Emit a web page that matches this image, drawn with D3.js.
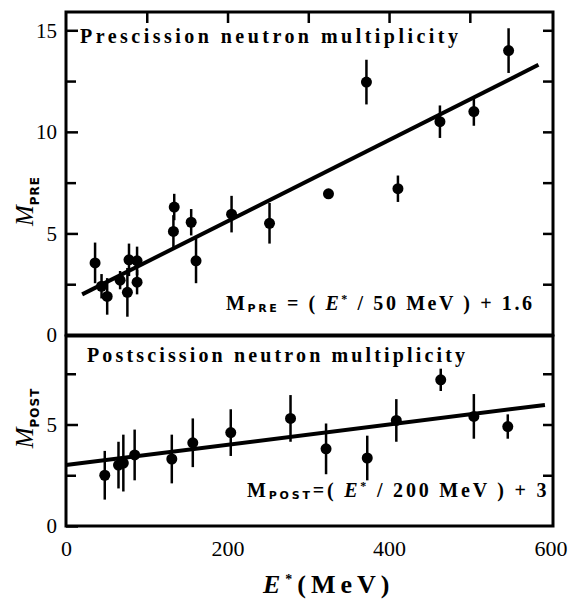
<!DOCTYPE html>
<html>
<head>
<meta charset="utf-8">
<script src="https://cdn.jsdelivr.net/npm/d3@7"></script>
<style>
  body { margin: 0; background: #fff; }
  svg text { font-family: "Liberation Serif", "DejaVu Serif", serif; fill: #000; }
  .tick line { stroke: #000; stroke-width: 2.5; }
  .tick text { font-size: 21px; }
</style>
</head>
<body>
<svg id="chart" width="575" height="601"></svg>
<script>
// prescission data (E* in MeV, multiplicity, error)
const preEnergy = [36, 44, 51, 67, 76, 78, 88, 88, 133, 134, 155, 161, 205, 252, 325, 372, 411, 463, 505, 548];
const preMult   = [3.55, 2.4, 1.9, 2.7, 2.1, 3.7, 3.65, 2.6, 5.1, 6.3, 5.55, 3.65, 5.95, 5.5, 6.95, 12.45, 7.2, 10.5, 11.0, 14.0];
const preErr    = [1.0, 0.6, 0.9, 0.45, 1.2, 0.8, 0.7, 0.6, 0.8, 0.65, 0.65, 1.1, 0.9, 1.0, 0, 1.1, 0.65, 0.8, 0.7, 1.1];

// postscission data
const postEnergy = [48, 65, 71, 85, 131, 157, 204, 278, 322, 373, 409, 464, 505, 547];
const postMult   = [2.5, 3.0, 3.1, 3.5, 3.3, 4.1, 4.6, 5.3, 3.8, 3.35, 5.2, 7.2, 5.4, 4.9];
const postErr    = [1.2, 1.15, 1.4, 1.25, 1.2, 1.2, 1.15, 1.15, 1.25, 1.1, 1.05, 0.55, 1.1, 0.6];

// fits: M = E*/scale + offset
const preFit  = { scale: 50, offset: 1.6, from: 20, to: 585 };
const postFit = { scale: 200, offset: 3, from: 0, to: 593 };

const xTicks = [0, 200, 400, 600];
const xTopTicks = [100, 200, 300, 400, 500];
const preTicks = [0, 5, 10, 15];
const preMinor = [2.5, 7.5, 12.5];
const postTicks = [0, 5];
const postMinor = [2.5, 7.5];

const svg = d3.select("#chart");
const x = d3.scaleLinear().domain([0, 603]).range([66, 553]);
const yPre = d3.scaleLinear().domain([0, 15.9]).range([335, 12]);
const yPost = d3.scaleLinear().domain([0, 9.36]).range([526, 336]);

function panel(y, E, M, err, fit, major, minor) {
  const g = svg.append("g");
  const left = x.range()[0], right = x.range()[1];

  g.append("g").attr("transform", `translate(${left},0)`)
    .call(d3.axisLeft(y).tickValues(major).tickSize(-12).tickPadding(9))
    .call(s => s.select(".domain").remove());
  g.append("g").attr("transform", `translate(${left},0)`)
    .call(d3.axisLeft(y).tickValues(minor).tickSize(-10).tickFormat(""))
    .call(s => s.select(".domain").remove());
  g.append("g").attr("transform", `translate(${right},0)`)
    .call(d3.axisRight(y).tickValues(major.concat(minor).filter(v => v > 0)).tickSize(-10).tickFormat(""))
    .call(s => s.select(".domain").remove());

  // fit line
  g.append("line")
    .attr("x1", x(fit.from)).attr("y1", y(fit.from / fit.scale + fit.offset))
    .attr("x2", x(fit.to)).attr("y2", y(fit.to / fit.scale + fit.offset))
    .attr("stroke", "#000").attr("stroke-width", 4);

  const pts = E.map((e, i) => ({ e, m: M[i], d: err[i] }));
  g.selectAll(".eb").data(pts.filter(p => p.d > 0)).join("line")
    .attr("x1", p => x(p.e)).attr("x2", p => x(p.e))
    .attr("y1", p => y(p.m - p.d)).attr("y2", p => y(p.m + p.d))
    .attr("stroke", "#000").attr("stroke-width", 2.5);
  g.selectAll(".pt").data(pts).join("circle")
    .attr("cx", p => x(p.e)).attr("cy", p => y(p.m)).attr("r", 5.5)
    .attr("fill", "#000");

  g.append("rect")
    .attr("x", left).attr("y", y.range()[1])
    .attr("width", right - left).attr("height", y.range()[0] - y.range()[1])
    .attr("fill", "none").attr("stroke", "#000").attr("stroke-width", 3);
  return g;
}

panel(yPre, preEnergy, preMult, preErr, preFit, preTicks, preMinor);
panel(yPost, postEnergy, postMult, postErr, postFit, postTicks, postMinor);

// top ticks
svg.append("g").attr("transform", `translate(0,${yPre.range()[1]})`)
  .call(d3.axisTop(x).tickValues(xTopTicks).tickSize(-11).tickFormat(""))
  .call(s => s.select(".domain").remove());

// bottom labels
svg.append("g").attr("transform", `translate(0,${yPost.range()[0]})`)
  .call(d3.axisBottom(x).tickValues(xTicks).tickSize(0).tickPadding(14).tickFormat(d3.format("d")))
  .call(s => s.select(".domain").remove())
  .selectAll("text").style("font-size", "22px");

// panel titles
svg.append("text").attr("x", 80).attr("y", 43)
  .attr("textLength", 378).attr("lengthAdjust", "spacing")
  .style("font-size", "20px").style("font-weight", "bold")
  .text("Prescission  neutron  multiplicity");
svg.append("text").attr("x", 87).attr("y", 362)
  .attr("textLength", 378).attr("lengthAdjust", "spacing")
  .style("font-size", "20px").style("font-weight", "bold")
  .text("Postscission  neutron  multiplicity");

function formula(xp, yp, sub, rest, ls) {
  const t = svg.append("text").attr("x", xp).attr("y", yp)
    .style("font-size", "20px").style("font-weight", "bold").style("letter-spacing", ls + "px");
  t.append("tspan").text("M");
  t.append("tspan").attr("dy", 2).style("font-size", "11px")
    .style("font-family", "'DejaVu Sans', sans-serif").text(sub);
  t.append("tspan").attr("dy", -2).text(rest[0]);
  t.append("tspan").style("font-style", "italic").text("E");
  t.append("tspan").attr("dy", -7).style("font-size", "12px").text("*");
  t.append("tspan").attr("dy", 7).text(rest[1]);
}
formula(226, 310, "PRE", [" = ( ", " / 50 MeV ) + 1.6"], 2.6);
formula(247, 497, "POST", ["=( ", " / 200 MeV ) + 3"], 2.8);

// y axis titles
function yTitle(cy, sub) {
  const t = svg.append("text")
    .attr("transform", `translate(33,${cy}) rotate(-90)`)
    .attr("text-anchor", "middle")
    .style("font-size", "25px");
  t.append("tspan").style("font-style", "italic").text("M");
  t.append("tspan").attr("dy", 6).style("font-size", "12px").style("font-weight", "bold")
    .style("font-family", "'DejaVu Sans', sans-serif").style("letter-spacing", "1px").text(sub);
}
yTitle(201, "PRE");
yTitle(418, "POST");

// x axis title
const xt = svg.append("text").attr("x", 263).attr("y", 593)
  .style("font-size", "26px").style("font-weight", "bold").style("letter-spacing", "5px");
xt.append("tspan").style("font-style", "italic").text("E");
xt.append("tspan").attr("dy", -9).style("font-size", "14px").text("*");
xt.append("tspan").attr("dy", 9).text("(MeV)");
</script>
</body>
</html>
